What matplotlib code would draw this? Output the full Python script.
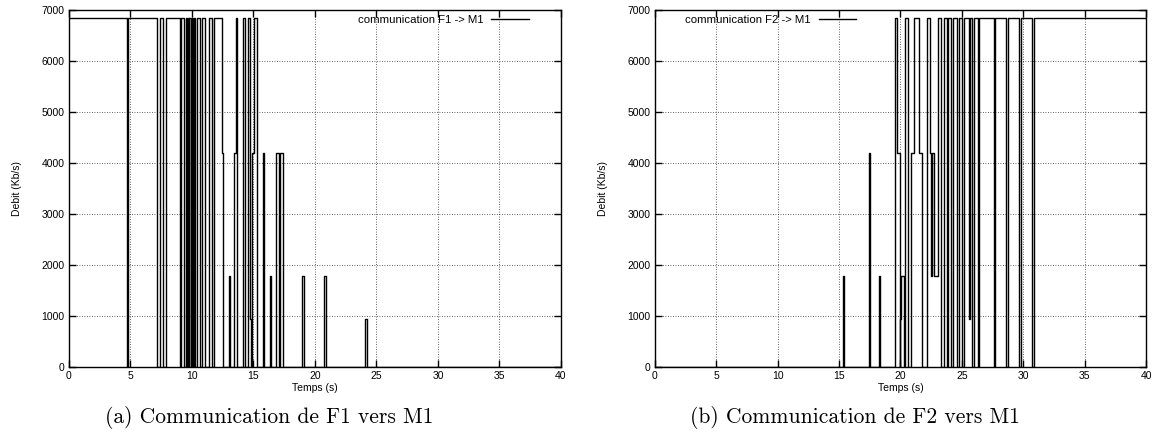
import matplotlib
matplotlib.use('Agg')
import matplotlib.pyplot as plt

# debit levels seen on the plot (Kb/s)
HI = 6850
MID = 4200
LOW = 1780
MIN = 950

# F1 -> M1 : time where the value changes, value held from then on
f1_t = [0, 4.70, 4.79, 7.17, 7.38, 7.66, 7.85, 9.01, 9.12, 9.39, 9.55, 9.62, 9.68, 9.74,
        9.80, 9.95, 10.0, 10.12, 10.18, 10.28, 10.42, 10.69, 10.83, 11.10, 11.37, 11.64,
        11.77, 12.46, 12.54, 12.99, 13.13, 13.40, 13.59, 13.67, 14.13, 14.29, 14.54, 14.76,
        14.84, 14.89, 15.02, 15.30, 15.79, 15.89, 16.33, 16.44, 16.87, 17.09, 17.20, 17.41,
        18.98, 19.08, 20.77, 20.90, 24.10, 24.22, 40]
f1_v = [HI, 0, HI, 0, HI, 0, HI, 0, HI, 0, HI, 0, HI, 0,
        HI, 0, HI, 0, HI, 0, HI, 0, HI, 0, HI, 0,
        HI, MID, 0, LOW, 0, MID, HI, 0, HI, 0, HI, MIN,
        0, MID, HI, 0, MID, 0, LOW, 0, MID, 0, MID, 0,
        LOW, 0, LOW, 0, MIN, 0, 0]

# F2 -> M1
f2_t = [0, 15.29, 15.43, 17.41, 17.55, 18.23, 18.37, 19.59, 19.73, 19.92, 20.00, 20.08,
        20.27, 20.33, 20.60, 20.82, 21.09, 21.50, 21.77, 22.16, 22.43, 22.50, 22.56, 22.72,
        23.05, 23.32, 23.54, 23.76, 23.86, 24.08, 24.30, 24.57, 24.76, 25.04, 25.17, 25.55,
        25.65, 25.85, 25.98, 26.35, 26.42, 27.60, 27.72, 28.60, 28.72, 29.66, 29.80, 30.75,
        30.88, 40]
f2_v = [0, LOW, 0, MID, 0, LOW, 0, HI, MID, 0, MIN, LOW,
        0, HI, 0, MID, HI, MID, 0, HI, MID, LOW, MID, LOW,
        HI, 0, HI, 0, HI, 0, HI, 0, HI, 0, HI, MIN,
        HI, 0, HI, 0, HI, 0, HI, 0, HI, 0, HI, 0,
        HI, HI]

panels = [
    (f1_t, f1_v, 'communication F1 -> M1', '(a) Communication de F1 vers M1',
     'upper right', (0.935, 0.986)),
    (f2_t, f2_v, 'communication F2 -> M1', '(b) Communication de F2 vers M1',
     'upper left', (0.061, 0.986)),
]

plt.rcParams['font.family'] = ['Liberation Sans', 'DejaVu Sans']

fig = plt.figure(figsize=(11.57, 4.46), dpi=100)
boxes = [[0.0596, 0.177, 0.4252, 0.800], [0.5661, 0.177, 0.4244, 0.800]]
cap_x = [0.233, 0.739]

for i, (t, v, lab, cap, loc, anchor) in enumerate(panels):
    ax = fig.add_axes(boxes[i])
    ax.step(t, v, where='post', color='black', lw=1.0, label=lab)
    ax.set_xlim(0, 40)
    ax.set_ylim(0, 7000)
    ax.set_xticks(range(0, 41, 5))
    ax.set_yticks(range(0, 7001, 1000))
    ax.grid(True, linestyle=(0, (1, 2)), color='black', lw=0.6, alpha=0.8)
    ax.tick_params(direction='in', length=5, width=1, labelsize=7.5,
                   top=True, right=True, pad=3)
    for s in ax.spines.values():
        s.set_linewidth(1.0)
    ax.set_xlabel('Temps (s)', fontsize=7.5, labelpad=1)
    ax.set_ylabel('Debit (Kb/s)', fontsize=7.5, labelpad=14)
    ax.legend(loc=loc, bbox_to_anchor=anchor, frameon=False, fontsize=8.2,
              markerfirst=False, handlelength=3.3, borderpad=0, borderaxespad=0,
              handletextpad=0.7)
    fig.text(cap_x[i], 0.063, cap, fontsize=15.5, family='cmr10', ha='center', va='center')

fig.savefig('out.png', dpi=100)
